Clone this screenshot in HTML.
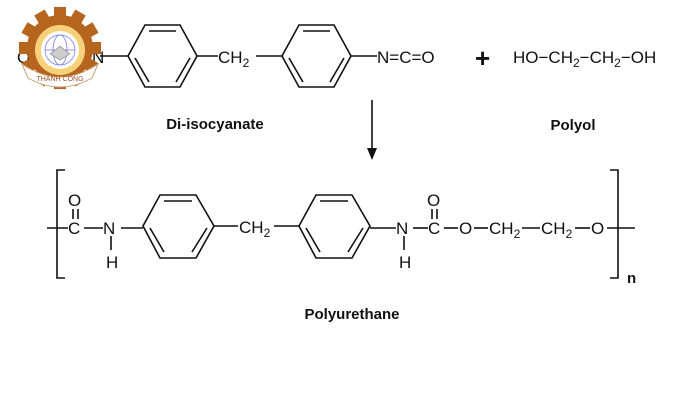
<!DOCTYPE html>
<html><head><meta charset="utf-8"><style>
html,body{margin:0;padding:0;background:#fff;}
svg{display:block;font-family:"Liberation Sans",Arial,sans-serif;}
text{fill:#111;}
</style></head><body>
<svg width="700" height="418" viewBox="0 0 700 418" xmlns="http://www.w3.org/2000/svg">
<g stroke="#111" stroke-width="1.6" fill="none">
<polygon points="128,56 145,25 180,25 197,56 180,87 145,87"/>
<line x1="149" y1="31" x2="176" y2="31"/>
<line x1="190" y1="58" x2="176" y2="82"/>
<line x1="135" y1="58" x2="149" y2="82"/>
<line x1="100" y1="56" x2="128" y2="56"/>
<line x1="197" y1="56" x2="218" y2="56"/>
<line x1="256" y1="56" x2="282" y2="56"/>
<polygon points="282,56 299,25 334,25 351,56 334,87 299,87"/>
<line x1="303" y1="31" x2="330" y2="31"/>
<line x1="344" y1="58" x2="330" y2="82"/>
<line x1="289" y1="58" x2="303" y2="82"/>
<line x1="351" y1="56" x2="377" y2="56"/>
<line x1="372" y1="100" x2="372" y2="152"/>
</g>
<polygon points="367,148 377,148 372,160" fill="#111"/>
<g font-size="17">
<text x="218" y="63">CH<tspan font-size="12" dy="4">2</tspan></text>
<text x="377" y="63">N=C=O</text>
<text x="513" y="63">HO−CH<tspan font-size="12" dy="4">2</tspan><tspan dy="-4">−CH</tspan><tspan font-size="12" dy="4">2</tspan><tspan dy="-4">−OH</tspan></text>
<text x="17" y="63">O</text>
<text x="92" y="63">N</text>
</g>
<text x="475" y="67" font-size="26" font-weight="bold">+</text>
<text x="215" y="129" font-size="15" font-weight="bold" text-anchor="middle">Di-isocyanate</text>
<text x="573" y="130" font-size="15" font-weight="bold" text-anchor="middle">Polyol</text>

<g stroke="#111" stroke-width="1.6" fill="none">
<polyline points="65,170 57,170 57,278 65,278"/>
<polyline points="610,170 618,170 618,278 610,278"/>
<line x1="47" y1="228" x2="68" y2="228"/>
<line x1="73" y1="209" x2="73" y2="219"/>
<line x1="78" y1="209" x2="78" y2="219"/>
<line x1="84" y1="228" x2="103" y2="228"/>
<line x1="121" y1="228" x2="143" y2="228"/>
<line x1="111" y1="236" x2="111" y2="250"/>
<polygon points="143,226 160,195 196,195 214,226 196,258 160,258"/>
<line x1="164" y1="201" x2="192" y2="201"/>
<line x1="207" y1="228" x2="192" y2="252"/>
<line x1="150" y1="228" x2="164" y2="252"/>
<line x1="214" y1="226" x2="238" y2="226"/>
<line x1="274" y1="226" x2="299" y2="226"/>
<polygon points="299,226 316,195 352,195 370,226 352,258 316,258"/>
<line x1="320" y1="201" x2="348" y2="201"/>
<line x1="363" y1="228" x2="348" y2="252"/>
<line x1="306" y1="228" x2="320" y2="252"/>
<line x1="370" y1="228" x2="396" y2="228"/>
<line x1="413" y1="228" x2="428" y2="228"/>
<line x1="404" y1="236" x2="404" y2="250"/>
<line x1="432" y1="209" x2="432" y2="219"/>
<line x1="437" y1="209" x2="437" y2="219"/>
<line x1="444" y1="228" x2="458" y2="228"/>
<line x1="474" y1="228" x2="488" y2="228"/>
<line x1="522" y1="228" x2="540" y2="228"/>
<line x1="575" y1="228" x2="590" y2="228"/>
<line x1="607" y1="228" x2="635" y2="228"/>
</g>
<g font-size="17">
<text x="68" y="206">O</text>
<text x="68" y="234">C</text>
<text x="103" y="234">N</text>
<text x="106" y="268">H</text>
<text x="239" y="233">CH<tspan font-size="12" dy="4">2</tspan></text>
<text x="396" y="234">N</text>
<text x="399" y="268">H</text>
<text x="427" y="206">O</text>
<text x="428" y="234">C</text>
<text x="459" y="234">O</text>
<text x="489" y="234">CH<tspan font-size="12" dy="4">2</tspan></text>
<text x="541" y="234">CH<tspan font-size="12" dy="4">2</tspan></text>
<text x="591" y="234">O</text>
</g>
<text x="627" y="283" font-size="15" font-weight="bold">n</text>
<text x="352" y="319" font-size="15" font-weight="bold" text-anchor="middle">Polyurethane</text>

<g transform="translate(60,48)">
<g fill="#b5651d">
<circle r="33"/>
<g id="t"><rect x="-6" y="-41" width="12" height="12"/></g>
<use href="#t" transform="rotate(30)"/><use href="#t" transform="rotate(60)"/><use href="#t" transform="rotate(90)"/>
<use href="#t" transform="rotate(120)"/><use href="#t" transform="rotate(150)"/><use href="#t" transform="rotate(180)"/>
<use href="#t" transform="rotate(210)"/><use href="#t" transform="rotate(240)"/><use href="#t" transform="rotate(270)"/>
<use href="#t" transform="rotate(300)"/><use href="#t" transform="rotate(330)"/>
</g>
<path d="M-38,16 Q0,42 38,16 L32,30 Q0,48 -32,30 Z" fill="#fff" stroke="#c9a27a" stroke-width="1"/>
<circle cy="2" r="25" fill="#f5d27a"/>
<circle cy="2" r="19" fill="#fff"/>
<circle cy="2" r="15" fill="none" stroke="#7a7ae0" stroke-width="0.8"/>
<ellipse cy="2" rx="7" ry="15" fill="none" stroke="#7a7ae0" stroke-width="0.8"/>
<line x1="-15" y1="2" x2="15" y2="2" stroke="#7a7ae0" stroke-width="0.8"/>
<path d="M-10,6 L0,-2 L10,6 L0,12 Z" fill="#ccc" stroke="#888" stroke-width="0.6"/>
<text x="0" y="33" font-size="7" text-anchor="middle" style="fill:#a0522d">THÀNH CÔNG</text>
</g>
</svg>
</body></html>
